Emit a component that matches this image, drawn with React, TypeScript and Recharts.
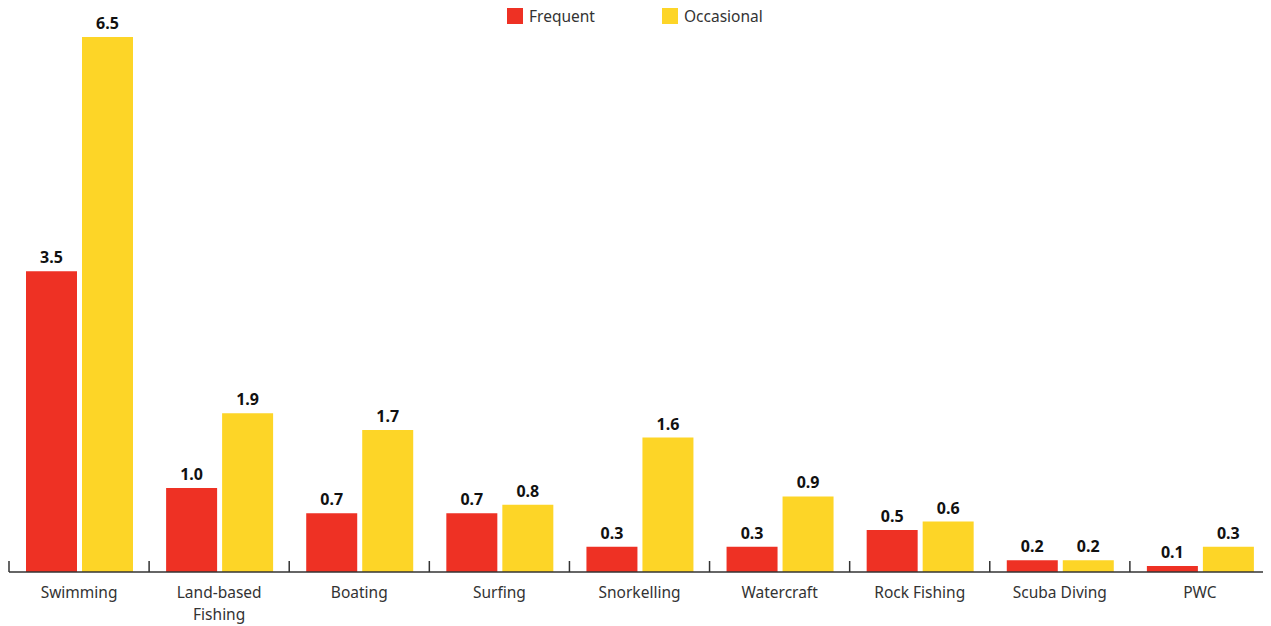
import React from "react";
import { BarChart, Bar, XAxis, YAxis, LabelList, Text } from "recharts";

const categories = [
  "Swimming",
  "Land-based Fishing",
  "Boating",
  "Surfing",
  "Snorkelling",
  "Watercraft",
  "Rock Fishing",
  "Scuba Diving",
  "PWC",
];
const frequentValues = [3.58, 1.0, 0.7, 0.7, 0.3, 0.3, 0.5, 0.14, 0.07];
const occasionalValues = [6.37, 1.89, 1.69, 0.8, 1.6, 0.9, 0.6, 0.14, 0.3];
const frequentLabels = ["3.5", "1.0", "0.7", "0.7", "0.3", "0.3", "0.5", "0.2", "0.1"];
const occasionalLabels = ["6.5", "1.9", "1.7", "0.8", "1.6", "0.9", "0.6", "0.2", "0.3"];

const RED = "#EE3124";
const YELLOW = "#FDD527";
const FONT = "'Noto Sans', 'Open Sans', sans-serif";

const data = categories.map((name, i) => ({
  name,
  frequent: frequentValues[i],
  occasional: occasionalValues[i],
  frequentLabel: frequentLabels[i],
  occasionalLabel: occasionalLabels[i],
}));

const CategoryTick = (props: any) => {
  const { x, y, payload, width, visibleTicksCount, index } = props;
  const band = width / (visibleTicksCount || categories.length);
  const axisY = y - 27;
  return (
    <g>
      <line x1={x - band / 2} x2={x - band / 2} y1={axisY - 11} y2={axisY} stroke="#333" strokeWidth={1.5} />
      {index === visibleTicksCount - 1 ? (
        <line x1={x + band / 2} x2={x + band / 2} y1={axisY - 11} y2={axisY} stroke="#333" strokeWidth={1.5} />
      ) : null}
      <Text
        x={x}
        y={y - 1}
        width={120}
        textAnchor="middle"
        verticalAnchor="middle"
        lineHeight={22}
        fill="#333"
        fontSize={15.5}
        fontFamily={FONT}
      >
        {payload.value}
      </Text>
    </g>
  );
};

const LegendItem = ({ color, label, left }: { color: string; label: string; left: number }) => (
  <div style={{ position: "absolute", left, top: 0, display: "flex", alignItems: "center" }}>
    <div style={{ width: 16, height: 16, background: color, marginRight: 6 }} />
    <span style={{ fontFamily: FONT, fontSize: 15.5, color: "#333", lineHeight: "16px" }}>{label}</span>
  </div>
);

export default function App() {
  return (
    <div style={{ position: "relative", width: 1263, height: 618 }}>
      <BarChart
        width={1263}
        height={618}
        data={data}
        margin={{ top: 18, right: 1, bottom: 0, left: 1 }}
        barCategoryGap={17}
        barGap={5}
      >
        <XAxis
          dataKey="name"
          interval={0}
          height={54}
          tickLine={false}
          axisLine={{ stroke: "#333", strokeWidth: 1.5 }}
          tick={<CategoryTick />}
          tickMargin={21}
        />
        <YAxis hide domain={[0, 6.5]} />
        <Bar dataKey="frequent" fill={RED} isAnimationActive={false}>
          <LabelList
            dataKey="frequentLabel"
            position="top"
            offset={8}
            fill="#111"
            fontSize={16}
            fontWeight={700}
            fontFamily={FONT}
          />
        </Bar>
        <Bar dataKey="occasional" fill={YELLOW} isAnimationActive={false}>
          <LabelList
            dataKey="occasionalLabel"
            position="top"
            offset={8}
            fill="#111"
            fontSize={16}
            fontWeight={700}
            fontFamily={FONT}
          />
        </Bar>
      </BarChart>
      <LegendItem color={RED} label="Frequent" left={499} />
      <LegendItem color={YELLOW} label="Occasional" left={654} />
    </div>
  );
}
